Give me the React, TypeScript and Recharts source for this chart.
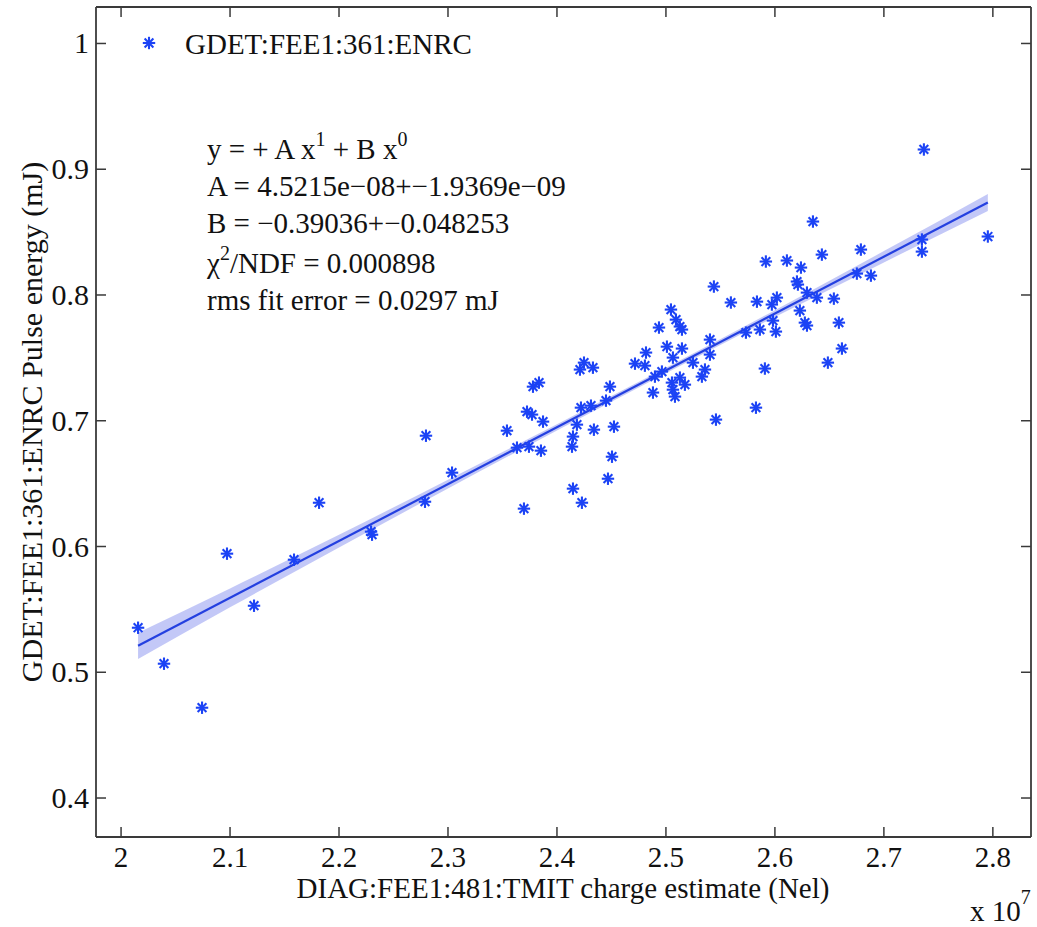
import React from "react";
import {
  ComposedChart,
  Scatter,
  Line,
  Area,
  XAxis,
  YAxis,
  Customized,
} from "recharts";

// charge estimate in units of 1e7 Nel
const chargeX = [
  2.0156, 2.0394, 2.0743, 2.0972, 2.122, 2.1587, 2.1817, 2.2294, 2.2303, 2.2789,
  2.2798, 2.3037, 2.3541, 2.3633, 2.3697, 2.3725, 2.3771, 2.3743, 2.378, 2.3835,
  2.3853, 2.3872, 2.4138, 2.4147, 2.4183, 2.4147, 2.4229, 2.422, 2.4312, 2.4339,
  2.445, 2.4486, 2.4523, 2.4505, 2.4468, 2.4248, 2.4211, 2.433, 2.4716, 2.4807,
  2.4817, 2.4881, 2.4899, 2.4963, 2.5009, 2.5147, 2.5064, 2.5055, 2.5128, 2.5174,
  2.5064, 2.5083, 2.5248, 2.533, 2.5358, 2.4936, 2.5046, 2.5092, 2.5128, 2.5147,
  2.5404, 2.5404, 2.544, 2.5459, 2.5596, 2.5734, 2.5835, 2.5862, 2.5917, 2.611,
  2.6239, 2.6202, 2.6211, 2.6294, 2.6385, 2.6541, 2.6431, 2.6789, 2.6349, 2.6752,
  2.6881, 2.5972, 2.6018, 2.5982, 2.6009, 2.6229, 2.6275, 2.6294, 2.6587, 2.6615,
  2.6486, 2.5908, 2.5826, 2.7349, 2.7349, 2.7954, 2.7367,
];

// pulse energy, mJ
const energyY = [
  0.5354, 0.5068, 0.4718, 0.5943, 0.5529, 0.5895, 0.6348, 0.6118, 0.6094, 0.6356,
  0.6881, 0.6587, 0.6921, 0.6786, 0.6301, 0.7072, 0.7049, 0.6794, 0.7271, 0.7303,
  0.6762, 0.6993, 0.6794, 0.6874, 0.6969, 0.646, 0.6348, 0.7104, 0.712, 0.6929,
  0.716, 0.7271, 0.6953, 0.6714, 0.6539, 0.7462, 0.7407, 0.7422, 0.7454, 0.7438,
  0.7542, 0.7224, 0.7351, 0.7391, 0.7589, 0.7574, 0.7502, 0.7303, 0.7343, 0.7287,
  0.7247, 0.7192, 0.7462, 0.7351, 0.7407, 0.7741, 0.7884, 0.7804, 0.7749, 0.7725,
  0.7645, 0.7526, 0.8067, 0.7009, 0.794, 0.7701, 0.7947, 0.7725, 0.8266, 0.8274,
  0.8218, 0.8107, 0.8083, 0.8019, 0.7979, 0.7971, 0.8321, 0.8361, 0.8584, 0.817,
  0.8154, 0.7924, 0.7979, 0.7796, 0.7709, 0.7876, 0.778, 0.7757, 0.778, 0.7574,
  0.7462, 0.7415, 0.7104, 0.8441, 0.8345, 0.8465, 0.9157,
];

// linear fit line and its confidence band
const fitX = [2.0156, 2.7954];
const fitY = [0.521, 0.8736];
const bandX = [2.0156, 2.1, 2.2, 2.3, 2.4, 2.5, 2.6, 2.7, 2.7954];
const bandLow = [0.5105, 0.5516, 0.5993, 0.6461, 0.6923, 0.7378, 0.7825, 0.8259, 0.8668];
const bandHigh = [0.5315, 0.5666, 0.6093, 0.6531, 0.6973, 0.7422, 0.7879, 0.8349, 0.8804];

const xTicks = [2, 2.1, 2.2, 2.3, 2.4, 2.5, 2.6, 2.7, 2.8];
const yTicks = [0.4, 0.5, 0.6, 0.7, 0.8, 0.9, 1];

const points = chargeX.map((x, i) => ({ x, y: energyY[i] }));
const fitData = fitX.map((x, i) => ({ x, y: fitY[i] }));
const bandData = bandX.map((x, i) => ({ x, range: [bandLow[i], bandHigh[i]] }));

const FONT = "'Liberation Serif', 'Times New Roman', serif";
const AXIS = "#3a3a3a";
const BLUE = "#1c43f5";
const TEXT = "#111";

const fmt = (v: number) => String(Number(v.toFixed(1)));

const Star = ({ cx, cy }: any) => {
  const r = 6.2;
  const d = r * 0.7071;
  return (
    <g stroke={BLUE} strokeWidth={2.1}>
      <line x1={cx - r} y1={cy} x2={cx + r} y2={cy} />
      <line x1={cx} y1={cy - r} x2={cx} y2={cy + r} />
      <line x1={cx - d} y1={cy - d} x2={cx + d} y2={cy + d} />
      <line x1={cx - d} y1={cy + d} x2={cx + d} y2={cy - d} />
    </g>
  );
};

const NoMark = () => <g />;

const BottomTick = ({ x, y, payload }: any) => (
  <g>
    <line x1={x} y1={y} x2={x} y2={y - 10} stroke={AXIS} strokeWidth={1.5} />
    <text x={x} y={y + 30} textAnchor="middle" fontSize={29} fontFamily={FONT} fill={TEXT}>
      {fmt(payload.value)}
    </text>
  </g>
);

// top axis: tick coordinate sits on the frame line
const TopTick = ({ x, y }: any) => (
  <line x1={x} y1={y} x2={x} y2={y + 10} stroke={AXIS} strokeWidth={1.5} />
);

const LeftTick = ({ x, y, payload }: any) => (
  <g>
    <line x1={x} y1={y} x2={x + 10} y2={y} stroke={AXIS} strokeWidth={1.5} />
    <text x={x - 7} y={y + 10} textAnchor="end" fontSize={30} fontFamily={FONT} fill={TEXT}>
      {fmt(payload.value)}
    </text>
  </g>
);

const RightTick = ({ x, y }: any) => (
  <line x1={x} y1={y} x2={x - 10} y2={y} stroke={AXIS} strokeWidth={1.5} />
);

const Annotations = () => (
  <g fontFamily={FONT} fill={TEXT}>
    {/* legend */}
    <Star cx={149} cy={43} />
    <text x={185} y={54} fontSize={29}>GDET:FEE1:361:ENRC</text>

    {/* fit summary */}
    <g fontSize={29}>
      <text x={207} y={159}>
        y = + A x<tspan dy={-13} fontSize={20}>1</tspan>
        <tspan dy={13}> + B x</tspan>
        <tspan dy={-13} fontSize={20}>0</tspan>
      </text>
      <text x={207} y={196}>A = 4.5215e−08+−1.9369e−09</text>
      <text x={207} y={233}>B = −0.39036+−0.048253</text>
      <text x={207} y={273}>
        χ<tspan dy={-13} fontSize={20}>2</tspan>
        <tspan dy={13}>/NDF = 0.000898</tspan>
      </text>
      <text x={207} y={310}>rms fit error = 0.0297 mJ</text>
    </g>

    {/* axis labels */}
    <text x={563} y={898} textAnchor="middle" fontSize={29}>
      DIAG:FEE1:481:TMIT charge estimate (Nel)
    </text>
    <text
      x={42}
      y={422}
      textAnchor="middle"
      fontSize={30}
      transform="rotate(-90, 42, 422)"
    >
      GDET:FEE1:361:ENRC Pulse energy (mJ)
    </text>
    <text x={970} y={921} fontSize={29}>
      x 10<tspan dy={-17} fontSize={20}>7</tspan>
    </text>
  </g>
);

export default function App() {
  return (
    <div style={{ position: "absolute", left: 0, top: 0, background: "#fff" }}>
      <ComposedChart
        width={1037}
        height={927}
        margin={{ top: 6, right: 5, left: 0, bottom: 0 }}
      >
        <XAxis
          xAxisId="b"
          type="number"
          dataKey="x"
          domain={[1.977, 2.835]}
          allowDataOverflow
          ticks={xTicks}
          interval={0}
          height={90}
          tickSize={0}
          tickMargin={0}
          tickLine={false}
          axisLine={{ stroke: AXIS, strokeWidth: 1.8 }}
          tick={<BottomTick />}
        />
        <XAxis
          xAxisId="t"
          orientation="top"
          type="number"
          dataKey="x"
          domain={[1.977, 2.835]}
          allowDataOverflow
          ticks={xTicks}
          interval={0}
          height={1}
          tickSize={0}
          tickMargin={0}
          tickLine={false}
          axisLine={{ stroke: AXIS, strokeWidth: 1.8 }}
          tick={<TopTick />}
        />
        <YAxis
          yAxisId="l"
          type="number"
          domain={[0.369, 1.029]}
          allowDataOverflow
          ticks={yTicks}
          interval={0}
          width={96}
          tickSize={0}
          tickMargin={0}
          tickLine={false}
          axisLine={{ stroke: AXIS, strokeWidth: 1.8 }}
          tick={<LeftTick />}
        />
        <YAxis
          yAxisId="r"
          orientation="right"
          type="number"
          domain={[0.369, 1.029]}
          allowDataOverflow
          ticks={yTicks}
          interval={0}
          width={1}
          tickSize={0}
          tickMargin={0}
          tickLine={false}
          axisLine={{ stroke: AXIS, strokeWidth: 1.8 }}
          tick={<RightTick />}
        />
        {/* invisible series so the top and right frame axes get drawn */}
        <Scatter
          xAxisId="t"
          yAxisId="r"
          data={points}
          dataKey="y"
          shape={<NoMark />}
          isAnimationActive={false}
        />
        <Area
          xAxisId="b"
          yAxisId="l"
          data={bandData}
          dataKey="range"
          type="monotone"
          stroke="none"
          fill="#b9bef6"
          fillOpacity={0.85}
          isAnimationActive={false}
        />
        <Line
          xAxisId="b"
          yAxisId="l"
          data={fitData}
          dataKey="y"
          stroke="#2440e0"
          strokeWidth={2.2}
          dot={false}
          isAnimationActive={false}
        />
        <Scatter
          xAxisId="b"
          yAxisId="l"
          data={points}
          dataKey="y"
          shape={<Star />}
          isAnimationActive={false}
        />
        <Customized component={Annotations} />
      </ComposedChart>
    </div>
  );
}
